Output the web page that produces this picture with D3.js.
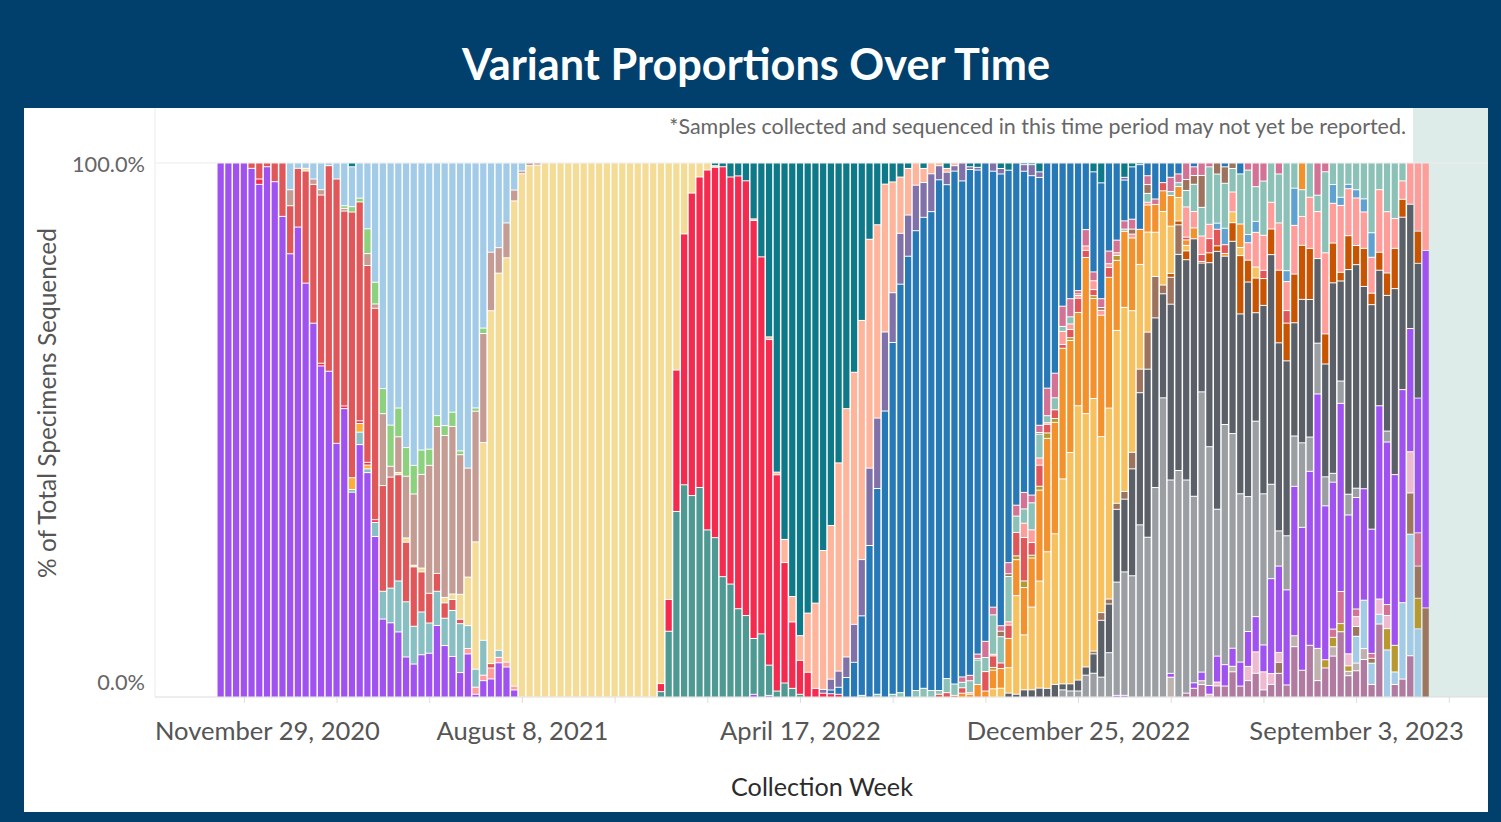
<!DOCTYPE html>
<html>
<head>
<meta charset="utf-8">
<title>Variant Proportions Over Time</title>
<script src="https://cdn.jsdelivr.net/npm/d3@7"></script>
<style>
  body { margin: 0; background: #013f6c; }
  svg { display: block; }
  text { font-family: Lato, "Open Sans", sans-serif; }
</style>
</head>
<body>
<div id="container"></div>
<script>
/* CONSTANTS AND GLOBALS */
const width = 1501, height = 822,
      margin = {top: 163, right: 13, bottom: 125, left: 155};
const plotBottom = height - margin.bottom,   // 0% line
      plotRight = width - margin.right;

/* DATA */
const firstWeek = new Date(2020, 10, 8);
const weekCount = 157;
const weeks = d3.range(weekCount).map(i => d3.timeWeek.offset(firstWeek, i));
const labelWeeks = [new Date(2020, 10, 29), new Date(2021, 7, 8), new Date(2022, 3, 17),
                    new Date(2022, 11, 25), new Date(2023, 8, 3)];
const lagStart = new Date(2023, 9, 28);   // samples may not yet be reported after this

// a series is written as [startWeekIndex, values] pieces, zero elsewhere
function seq(...parts) {
  const out = new Array(weekCount).fill(0);
  parts.forEach(([start, vals]) => vals.forEach((v, i) => out[start + i] += v));
  return out;
}

// % of specimens per week
const mauve = seq([125, [0.7,1.6,2.3,0,2,2,4.6,2,3,4.3, 1.3,2.3,4.3,2.2,9.2,4.9,9.5,3,5.3,7.4, 12,3.9,4.8,6.9,2.3,13.4,0,2.3,3.3,7.6]]);
const tan = seq([123, [3.6,0,0,0,0.7,0,0,0,1,0, 0,0,0,0,0,0,2,0,0,5.9, 0,1.7,0,0.8,1.4,2]]);
const lightBlueLate = seq([147, [4.9,8.9,3.9,1.8,8.6,2.3,14.1,22.4,12.5]]);
const oliveLate = seq([143, [1.5,1.7,1.5,1,0,0,0,0,3.9,4.9,0,0,5.6]]);
const brownLate = seq([137, [2,0,0,0,0,0,0,0,0,0, 1.8,0,0.9,0,0,0,0,7.6,5.9,16.6]]);
const lightPink = seq([128, [0.5,0.7,0,0,0,2.6,3.9,3.3,2,1.8, 0,0,0,0,0,0,0,0,2.2,1.8, 0,0,2.8,2.4,0,0,7.6]]);
const pinkLow = seq([144, [1.5,5.9,0,1.4,0,0.9,0,2,0,0,0,6.1]]);
const purple = seq(
  [0, [100,100,100,100,99,96,99.3,96.5,90,83, 88,77.5,70,62,61,47.5,54,38,46.7,41.6,
       29.6,14.3,13.7,12,7.4,6.1,7.8,8.1,13.2,9.4, 7.4,4.5,7.9,0.5,3,3.3,6.3,5.5,1.3]],
  [69, [0.5,0,0.3]],
  [116, [0.3,0.3,0,0,0,0,0,0.7,0,0, 1,1.6,1.6,4.7,3.9,3.3,4.4,6.4,6.4,4.9,
         17.4,15.7,17.4,27.3,26.2,32,46.6,28.1,26.6,34.6, 25.4,20.4,20.5,22.8,35.5,29.7,31.4,39.3,22.7,24.7, 66.6]]);
const gray = seq([109, [1.3,1.1,1.1,4,4.3,3.6,8.1,20.7,22.4,22, 31.4,28.9,38.4,54.9,35.2,41.4,38.8,34.2,51.8,43.6,
  26.6,43.8,39.2,30.9,24.7,35.5,27.6,17.3,6.4,9.9, 9.2,15.5,6.3,9.3,5.3,1.6,4.1,3.8,1.7,0, 0,0,2]]);
const darkGray = seq([102, [0.7,0.5,1.3,1.3,1.6,1.6,2.3,1.1,1.3,2, 1.5,3.5,10.3,8.9,13.3,13.2,19.4,24.1,30.4,31.1,
  19.1,32,39.5,40.1,47.2,23.8,33.6,46.7,30.7,35.1, 33,39.3,19.7,34.4,42.1,34.2,32,20.7,26.3,25.3,
  15.5,20.6,34.5,18.4,41.1,40.9,37.2,41.2,24.9,24.8, 34.2,31.8,22.9,24.7]]);
const brownLow = seq([113, [0.5,1.4,0.9,1.1,1.4,3,4.3,6.7,7.6,1.6, 4.9,5.4]]);
const orangeBrown = seq([123, [0.7,0.7,1.6,0,0.3,1.8,1,0,3.4,10.7, 4,6.3,4.9,4.7,13.2,6.9,8.9,9.9,9.4,0,
  5.5,7.2,1.6,6.2,3.5,7,2.1,3.3,4.1,7.4, 3.3,0,5.9]]);
const pinkEarly = seq([32, [1,1.3,1,2,1,0.9,0.7]]);
const gammaTeal = seq([17, [0.5,2.3,0.7,2.6,5.1,6.4,9.4,10.2,7,7.9, 5.6,6.3,5,8.4,9,4.2,3.3,6.4,0,1.3]]);
const orangeEarly = seq([17, [2.2,1.6,0.7]]);
const tealGreen = seq([57, [1,12.2,34.5,39.5,37.5,39,31.1,29.6,22.4,21, 16.4,15.1,10.4,11.7,5.6,1.1,2.6,1.6,0.5]]);
const crimson = seq([5, [1,0,0,0,0,0,0,0,0.5,0,0,0.5,0,0.5,0.5,0.5]],
  [57, [1.5,5.9,26.3,46.7,56.3,57.8,67,68.8,76.3,75.7, 80.4,80.6,77.8,69.9,60.3,40.3,22.4,12.3,6.3,4.6, 1.6,0.7,0.6,0.5]]);
const lightOrange = seq([100, [1.5,1.6,4.6,18.1,10,15,19.3,25.3,27.6,37.5, 42.1,50.3,46.4,45.7,31.9,34.9,31.6,33.4,25.7,19.1,
  18.1,8.1,13.5,8.6,4.3,1,0,0,0,0, 0,2,1.5,0,2]]);
const orange = seq([96, [0.7,0.5,2.3,1.1,3.4,3.6,5.3,6.6,8.6,8.9, 16.4,21,20.4,23.9,20.4,17.1,28.6,18.1,22,23.9,
  12.8,13.8,13.2,6.4,4.9,5.1,3.8,5.6,2,1, 2,0,0,0,0.5,0,4.3]]);
const olive = seq([100, [0.5,0,0,0.7,1.2,0.5,0.7,1,0.7,0, 0.5,0,0,0.5,0,0,0.9]]);
const red = seq(
  [4, [1,3,0.7,3.5,10,9,11,21,26,31.5, 38.5,49.5,36.5,49.3,40.5,36.5,39,19.4,20.5,19.6, 11,11,7.4,5.5,3.3,2.8,2,0.8,0,0, 0,0.8]],
  [93, [0.5,0.8,0.3,1,0,0,3.6,2.1,1,2.4, 4.3,7.9,2.3,3.8,1.6,1.6,0.7,1.5,2.6,1.3, 1.1,0,1.8,0,0,0,0,0,0,1.5,
        0,0,0.5,0,1.3,2.6,3,1.6,0,0, 0,0,1.5,0,0,2.3]]);
const yellow = seq([11, [0.5]],
  [23, [0.4,0.8,0.3,0.7,0,0,1,1,4.6,8.9, 23.4,36.3,64.5,69.5,74.2,89.6,97.5,99,99.3,100,
        100,100,100,100,100,100,100,100,100,100, 100,100,100,100,97,81,38.5,13.2,5.6,2.6, 1.3,0.3]]);
const salmonPink = seq([97, [0.3,0,0,0.3,0,0.6,0,2.6,2.3,1.3, 0.3,0,2.4,1,0.5,0.8,1.6,0.9,0.7,0.5,
  0,0.7,0,0.5,0,0,0,0,5.5,3, 3.4,2.6,0,0,3.6,0,3.2,6.3,6.4,4.9, 8.6,5.3,8.9,5.3,9.4,8.6,14.8,7.2,12.3,8.6,
  8.7,6.7,6.6,11.5,11.2,5.5,3.4,7.6,12.5,16.3]]);
const lightBlueMid = seq([129, [1.1,3,0,0,1.5,2,0,0,0,2, 6.8,0,0,0,0,3.4,1.5,0.8,1.5,2.4, 4.5]]);
const tealLight = seq([83, [0.3,0,0.5,0,0.5,0.8,0,1.2,1.6,1.2, 0.7,2.6,2.1,1,2.2,4.5,2.6,7.2,4.8,8.2,
  3,2.6,4.9,4.3,1.3,2.2,0.9,1.3,0,0, 0,0,0,0,0.4,0,0,1.6,0,0, 0.7,0.7,3,5,5.3,10.5,8.9,8.2,4.3,9.2,
  11.8,6.3,9.9,7.2,8.9,19.7,4.6,4.9,6.3,3, 14.8,3.9,6.3,3.9,4.9,6.6,12.8,4.9,8.9,10.2, 3.3]]);
const brown = seq([98, [0.3,0,0,1,0.5,0,0,0,0.3,0, 0,0,0,0.3,0,0,0.5,0,0,0, 0.9,0,1.6,0,0,0,0,2,1.6,5.9, 0,2,3,1]]);
const pink = seq([96, [1,1,0.8,3,1.4,1,2,2,3,1.4, 1.3,5.1,4.5,3.7,3.3,0.6,3,1.6,1.6,2.3,
  2.3,1.5,1.8,0,1.6,1,0,2.6,1.6,3, 1.6,2.3,0.7,0,0,0,0,1.3,4.3,3.3, 0,2,0,0,0,0,5.9,1.6]]);
const blue = seq([79, [0.7,1.3,3.6,6.4,14.7,28,38,52.8,65.1,75.5, 81.3,84.9,86.7,88.6,94.3,91.1,94.7,91.4,93.4,89.1,
  88.5,79.6,82.4,71,62.8,58.4,57.9,44.7,41.7,38.5, 26.2,24.7,23.4,12.2,18.1,21,16.1,14.1,7.4,9.5,
  11.8,2.3,6.6,3.6,2.6,2,0,0.7,0,0, 0,0.7,0,2]]);
const purpleGray = seq([78, [0.7,2,3,3.8,7,10.4,14.3,13,14.6,9.2, 9.4,7.6,8.4,6.4,7,2.6,2.3,1,3.3,0.5,
  0.5,0,1.5,1,0,0,1.2,2,1]], [117, [0.5]]);
const rosy = seq([9, [3,0,0,1,1,0,0,0.5,0,0, 2.2,0.8,13.2,2,6.6,11.4,13.2,17.3,23.7,27.1,
  29.6,30.6,25.7,20,24,20,10.7,4.7,6.4,2, 0.5,0.5,0.4]]);
const salmon = seq([69, [0.3,0,0.5,0.5,4.3,4.7,4.6,11,15.8,25.7, 28.5,38.6,45.9,46.5,44.2,42.3,35.7,27.3,20.5,10.4,
  8.6,4.1,2.6,2,0.5,0.7,0.5]]);
const green = seq([16, [0.5,1,0.7,4.6,4,4.6,7.6,5.3,5.3,5.3, 4.5,3,2,1.8,2.6,0.7,0,0.6,1]]);
const alpha = seq([9, [5,1,1,3,5,0.5,3,8,7.4,6.5, 12.2,22,41.4,48.4,45.2,52.6,56,53,53,46.6,
  48,45.5,53,56,45,30.3,16.3,15.6,11,5, 1.5]]);
const deepTeal = seq([17, [0.7]],
  [64, [0.5,0.7,2.6,2.4,3.3,10.4,17.4,32.2,57.6,70, 80.3,87.8,83.7,81.6,71.7,67.2,55.6,45.4,38.6,29.1,
        14.1,11.4,3.9,3.5,2.6,1,0,1,0,0, 1,0,0,0.7,0.8,0,0,1,1.3,0, 0.3,0.3,1.6,0,0,0,0,0,0,1.6, 3.6,0,0,2.6,0.7,0.3]]);
const orangeTop = seq([140, [4.9]]);

// stacking order, bottom to top
const seriesValues = {mauve, tan, lightBlueLate, oliveLate, brownLate, lightPink, pinkLow, purple, gray, darkGray,
  brownLow, orangeBrown, pinkEarly, gammaTeal, orangeEarly, tealGreen, crimson, lightOrange, orange, olive, red,
  yellow, salmonPink, lightBlueMid, tealLight, brown, pink, blue, purpleGray, rosy, salmon, green, alpha,
  deepTeal, orangeTop};
const stackOrder = Object.keys(seriesValues);

const colors = {
  mauve: "#b07aa1", tan: "#bdb2ad", lightBlueLate: "#a3cbe6", oliveLate: "#b8992f", brownLate: "#9d7660",
  lightPink: "#eebad1", pinkLow: "#d37295", purple: "#a052f0", gray: "#9b9fa4", darkGray: "#5b6068",
  brownLow: "#9d735e", orangeBrown: "#c85300", pinkEarly: "#ff9d9a", gammaTeal: "#88bfc3", orangeEarly: "#ffad36",
  tealGreen: "#4e9a93", crimson: "#f42a4f", lightOrange: "#f7c15f", orange: "#f3912c", olive: "#b6992d",
  red: "#e15759", yellow: "#f4db96", salmonPink: "#ff9d9a", lightBlueMid: "#5fa2d2", tealLight: "#8bc1b6",
  brown: "#9d735e", pink: "#d37295", blue: "#2778b6", purpleGray: "#8072a9", rosy: "#c59c93",
  salmon: "#ffb49c", green: "#8cd17d", alpha: "#a2cbe8", deepTeal: "#0e7a89", orangeTop: "#f3912c"
};

const table = weeks.map((week, i) => {
  const row = {week};
  stackOrder.forEach(k => row[k] = seriesValues[k][i]);
  return row;
});

const stacked = d3.stack().keys(stackOrder).offset(d3.stackOffsetExpand)(table);

// SCALES
const xScale = d3.scaleTime()
  .domain([new Date(2020, 8, 13), new Date(2024, 0, 4)])
  .range([margin.left, plotRight]);

const yScale = d3.scaleLinear()
  .domain([0, 1])
  .range([plotBottom, margin.top]);

const step = xScale(weeks[1]) - xScale(weeks[0]);

// fit a text to a measured width by scaling its font size
function fitWidth(sel, target) {
  const w = sel.node().getComputedTextLength();
  const fs = parseFloat(sel.attr("font-size"));
  const size = fs * target / w;
  sel.attr("font-size", size);
  return size;
}

// CREATE SVG ELEMENT
const svg = d3.select("#container")
  .append("svg")
  .attr("width", width)
  .attr("height", height);

svg.append("rect")
  .attr("width", width).attr("height", height)
  .attr("fill", "#013f6c");

svg.append("rect")
  .attr("x", 24).attr("y", 108)
  .attr("width", plotRight - 24).attr("height", 812 - 108)
  .attr("fill", "#fff");

// title
const title = svg.append("text")
  .attr("x", 756).attr("y", 80)
  .attr("text-anchor", "middle")
  .attr("fill", "#fff")
  .attr("font-weight", "bold")
  .attr("font-size", 40)
  .text("Variant Proportions Over Time");
fitWidth(title, 588);

// not-yet-reported band
svg.append("rect")
  .attr("x", xScale(lagStart)).attr("y", 108)
  .attr("width", plotRight - xScale(lagStart))
  .attr("height", plotBottom - 108)
  .attr("fill", "#deece9");

// frame lines
svg.append("line")
  .attr("x1", margin.left).attr("x2", margin.left)
  .attr("y1", 108).attr("y2", plotBottom)
  .attr("stroke", "#ececec");
svg.append("line")
  .attr("x1", margin.left).attr("x2", plotRight)
  .attr("y1", yScale(1)).attr("y2", yScale(1))
  .attr("stroke", "#ececec");
svg.append("line")
  .attr("x1", margin.left).attr("x2", plotRight)
  .attr("y1", plotBottom).attr("y2", plotBottom)
  .attr("stroke", "#dcdcdc");

// note
const note = svg.append("text")
  .attr("x", 1406).attr("y", 134)
  .attr("text-anchor", "end")
  .attr("fill", "#666")
  .attr("font-size", 19)
  .text("*Samples collected and sequenced in this time period may not yet be reported.");
fitWidth(note, 737);

// DRAW BARS
svg.append("g")
  .selectAll("g.layer")
  .data(stacked)
  .join("g")
  .attr("class", "layer")
  .attr("fill", d => colors[d.key])
  .selectAll("rect")
  .data(d => d.filter(p => p[1] - p[0] > 0))
  .join("rect")
  .attr("x", p => xScale(p.data.week) + 0.75)
  .attr("width", step - 1.5)
  .attr("y", p => yScale(p[1]) + 0.5)
  .attr("height", p => Math.max(0.6, yScale(p[0]) - yScale(p[1]) - 1));

// BUILD AND CALL AXES
const minorTicks = d3.range(0, 14).map(i => d3.timeWeek.offset(labelWeeks[0], 12 * i));

svg.append("g")
  .attr("class", "xTicks")
  .attr("transform", `translate(${step / 2}, ${plotBottom})`)
  .call(d3.axisBottom(xScale).tickValues(minorTicks).tickSize(6).tickFormat(""))
  .call(g => g.select(".domain").remove())
  .call(g => g.selectAll("line").attr("stroke", "#dedede"));

const xAxis = svg.append("g")
  .attr("class", "xAxis")
  .attr("transform", `translate(${step / 2}, ${plotBottom})`)
  .call(d3.axisBottom(xScale).tickValues(labelWeeks).tickSize(0).tickFormat(d3.timeFormat("%B %-d, %Y")))
  .call(g => g.select(".domain").remove());

const tickText = xAxis.selectAll("text")
  .attr("y", 43).attr("dy", null)
  .attr("fill", "#555")
  .attr("font-family", "Lato, 'Open Sans', sans-serif")
  .attr("font-size", 25);
const tickSize = fitWidth(xAxis.selectAll("text").filter((d, i) => i === 1), 172);
tickText.attr("font-size", tickSize);
// keep the first label inside the pane
tickText.each(function() {
  const box = this.getBBox();
  const tx = +this.parentNode.getAttribute("transform").match(/translate\(([-\d.]+)/)[1] + step / 2;
  if (tx + box.x < margin.left) d3.select(this).attr("x", margin.left - (tx + box.x));
});

const yAxis = svg.append("g")
  .attr("class", "yAxis")
  .attr("transform", `translate(${margin.left}, 0)`)
  .call(d3.axisLeft(yScale).tickValues([0, 1]).tickSize(0).tickPadding(10).tickFormat(d3.format(".1%")))
  .call(g => g.select(".domain").remove());

yAxis.selectAll("text")
  .attr("fill", "#666")
  .attr("font-family", "Lato, 'Open Sans', sans-serif")
  .attr("font-size", 19)
  .attr("transform", d => d === 0 ? "translate(0,-14)" : "translate(0,2)");
const ySize = fitWidth(yAxis.selectAll("text").filter(d => d === 1), 73);
yAxis.selectAll("text").attr("font-size", ySize);

// axis titles
const xTitle = svg.append("text")
  .attr("x", 822).attr("y", 796)
  .attr("text-anchor", "middle")
  .attr("fill", "#2b2b2b")
  .attr("font-size", 25)
  .text("Collection Week");
fitWidth(xTitle, 182);

const yTitle = svg.append("text")
  .attr("transform", "translate(56, 403) rotate(-90)")
  .attr("text-anchor", "middle")
  .attr("fill", "#555")
  .attr("font-size", 19)
  .text("% of Total Specimens Sequenced");
fitWidth(yTitle, 350);
</script>
</body>
</html>
